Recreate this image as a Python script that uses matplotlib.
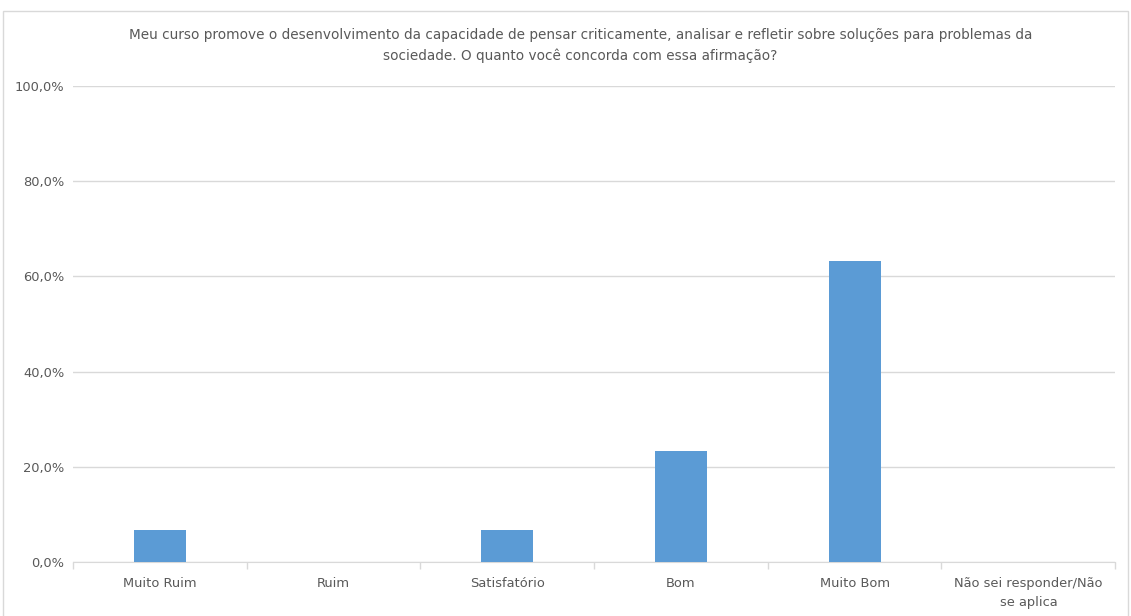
import matplotlib.pyplot as plt
from matplotlib.patches import Rectangle
from matplotlib.ticker import FuncFormatter, FixedLocator

plt.rcParams["font.family"] = ["Liberation Sans Narrow", "DejaVu Sans"]

# dados
categorias = ["Muito Ruim", "Ruim", "Satisfatório", "Bom", "Muito Bom",
              "Não sei responder/Não\nse aplica"]
percentuais = [6.7, 0.0, 6.7, 23.3, 63.3, 0.0]
titulo = ("Meu curso promove o desenvolvimento da capacidade de pensar criticamente, "
          "analisar e refletir sobre soluções para problemas da\n"
          "sociedade. O quanto você concorda com essa afirmação?")

texto = "#595959"
grade = "#D9D9D9"
azul = "#5B9BD5"

fig = plt.figure(figsize=(11.31, 6.16), dpi=100)
ax = fig.add_axes([0.0645, 0.088, 0.9215, 0.772])

x = range(len(categorias))
ax.bar(x, percentuais, width=0.3, color=azul, zorder=3)

ax.set_xlim(-0.5, len(categorias) - 0.5)
ax.set_ylim(0, 100)
ax.set_yticks([0, 20, 40, 60, 80, 100])
ax.yaxis.set_major_formatter(FuncFormatter(lambda v, p: f"{v:.1f}%".replace(".", ",")))
ax.grid(axis="y", color=grade, linewidth=1, zorder=0)

# eixo x: rótulos no centro, marcas nas divisões
ax.set_xticks(list(x))
ax.set_xticklabels(categorias, color=texto, fontsize=9.4, linespacing=1.6)
ax.tick_params(axis="x", length=0, pad=11)
ax.xaxis.set_minor_locator(FixedLocator([i - 0.5 for i in range(len(categorias) + 1)]))
ax.tick_params(axis="x", which="minor", length=5, color=grade, width=1)
ax.tick_params(axis="y", length=0, colors=texto, labelsize=9.4, pad=6)

for s in ["top", "right", "left"]:
    ax.spines[s].set_visible(False)
ax.spines["bottom"].set_color(grade)

fig.text(0.513, 0.926, titulo, ha="center", va="center", color=texto,
         fontsize=9.8, linespacing=1.6)

# borda externa da área do gráfico
fig.patches.append(Rectangle((3 / 1131, -0.1), 1125 / 1131, 1.1 - 11 / 616,
                             transform=fig.transFigure, fill=False,
                             edgecolor=grade, linewidth=1))

fig.savefig("out.png", dpi=100)
